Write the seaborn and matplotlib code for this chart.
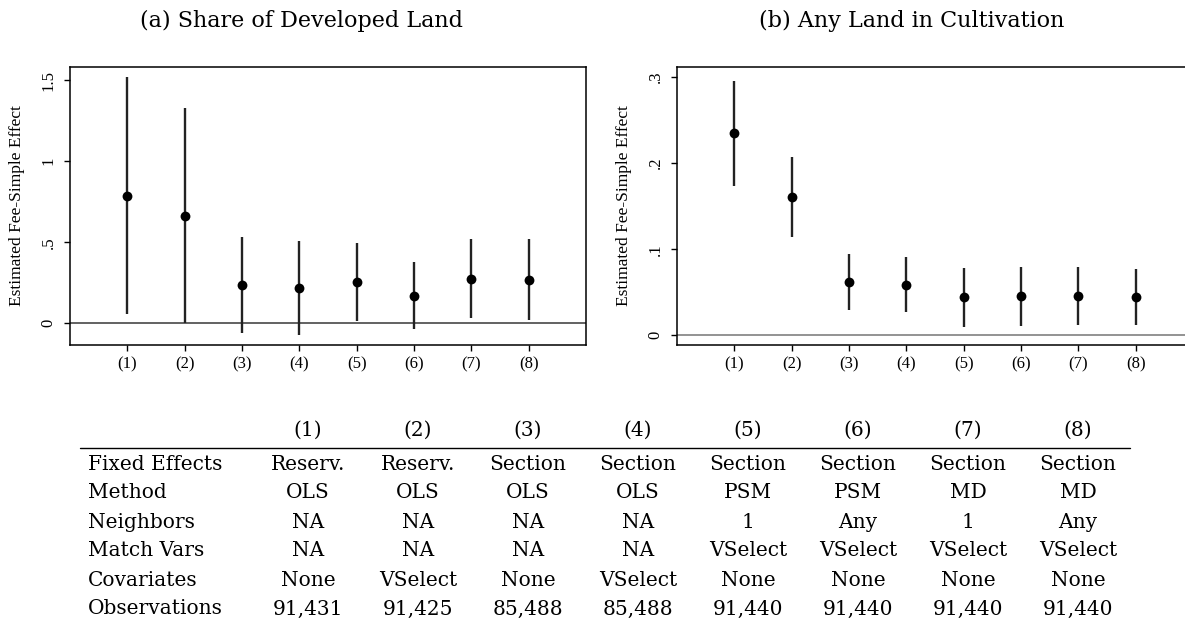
import matplotlib

matplotlib.use("Agg")
import matplotlib.pyplot as plt  # noqa: E402
from matplotlib.lines import Line2D  # noqa: E402
import numpy as np
import pandas as pd
import seaborn as sns

# specification labels (1)..(8)
SPECS = ["(1)", "(2)", "(3)", "(4)", "(5)", "(6)", "(7)", "(8)"]

# (a) share of developed land
DEV_EST = [0.788, 0.665, 0.237, 0.216, 0.257, 0.171, 0.274, 0.267]
DEV_LO = [0.058, 0.003, -0.058, -0.074, 0.014, -0.037, 0.031, 0.019]
DEV_HI = [1.519, 1.327, 0.531, 0.508, 0.498, 0.381, 0.519, 0.519]

# (b) any land in cultivation
CULT_EST = [0.2349, 0.1605, 0.0620, 0.0589, 0.0442, 0.0453, 0.0457, 0.0446]
CULT_LO = [0.174, 0.114, 0.0298, 0.0271, 0.0101, 0.0112, 0.0124, 0.0120]
CULT_HI = [0.2957, 0.2074, 0.0946, 0.0911, 0.0783, 0.0798, 0.0791, 0.0771]

# table under the panels
ROW_LABELS = ["Fixed Effects", "Method", "Neighbors", "Match Vars", "Covariates", "Observations"]
FIXED_EFFECTS = ["Reserv.", "Reserv.", "Section", "Section", "Section", "Section", "Section", "Section"]
METHOD = ["OLS", "OLS", "OLS", "OLS", "PSM", "PSM", "MD", "MD"]
NEIGHBORS = ["NA", "NA", "NA", "NA", "1", "Any", "1", "Any"]
MATCH_VARS = ["NA", "NA", "NA", "NA", "VSelect", "VSelect", "VSelect", "VSelect"]
COVARIATES = ["None", "VSelect", "None", "VSelect", "None", "None", "None", "None"]
OBSERVATIONS = ["91,431", "91,425", "85,488", "85,488", "91,440", "91,440", "91,440", "91,440"]

sns.set_theme(style="white")
plt.rcParams["font.family"] = ["Liberation Serif", "DejaVu Serif"]
plt.rcParams.update({
    "text.color": "black",
    "axes.labelcolor": "black",
    "xtick.color": "black",
    "ytick.color": "black",
})

W, H = 1185, 629
fig = plt.figure(figsize=(W / 100, H / 100), dpi=100)


def panel(ax, est, lo, hi, ylim, yticks, yticklabels, zero_color):
    df = pd.DataFrame({"pos": np.arange(1, len(SPECS) + 1), "est": est, "lo": lo, "hi": hi})
    ax.axhline(0, color=zero_color, lw=1.3, zorder=1)
    ax.vlines(df["pos"], df["lo"], df["hi"], color="#222222", lw=1.7, zorder=2)
    sns.scatterplot(data=df, x="pos", y="est", ax=ax, color="black", s=50,
                    edgecolor="black", linewidth=0, zorder=3, legend=False)
    ax.set_xlim(0, 9)
    ax.set_ylim(*ylim)
    ax.set_xticks(df["pos"])
    ax.set_xticklabels(SPECS, fontsize=12)
    ax.set_yticks(yticks)
    ax.set_yticklabels(yticklabels, rotation=90, va="center", fontsize=12)
    ax.tick_params(axis="both", direction="out", length=4.5, width=1, color="black",
                   left=True, bottom=True)
    ax.tick_params(axis="x", pad=4)
    ax.tick_params(axis="y", pad=5)
    ax.set_xlabel("")
    ax.set_ylabel("Estimated Fee-Simple Effect", fontsize=12.5, va="center")
    ax.yaxis.set_label_coords(-0.102, 0.5)
    for sp in ax.spines.values():
        sp.set_color("black")
        sp.set_linewidth(1.1)


axA = fig.add_axes([70 / W, 1 - 345 / H, 516 / W, 278 / H])
panel(axA, DEV_EST, DEV_LO, DEV_HI, (-0.134, 1.582), [0, 0.5, 1, 1.5],
      ["0", ".5", "1", "1.5"], "#555555")

axB = fig.add_axes([677 / W, 1 - 345 / H, 516 / W, 278 / H])
panel(axB, CULT_EST, CULT_LO, CULT_HI, (-0.0112, 0.3116), [0, 0.1, 0.2, 0.3],
      ["0", ".1", ".2", ".3"], "#8a8a8a")

title_font = ["DejaVu Serif"]
fig.text(302 / W, 1 - 27 / H, "(a) Share of Developed Land", ha="center", va="baseline",
         fontsize=16, family=title_font)
fig.text(912 / W, 1 - 27 / H, "(b) Any Land in Cultivation", ha="center", va="baseline",
         fontsize=16, family=title_font)

# table
col_x = [308 + 110 * i for i in range(len(SPECS))]
rows = [FIXED_EFFECTS, METHOD, NEIGHBORS, MATCH_VARS, COVARIATES, OBSERVATIONS]
tsize = 14.5
for x, lab in zip(col_x, SPECS):
    fig.text(x / W, 1 - 430 / H, lab, ha="center", va="center", fontsize=tsize, family=title_font)
fig.add_artist(Line2D([80 / W, 1130 / W], [1 - 448 / H, 1 - 448 / H], color="black", lw=1.0))
for j, (label, vals) in enumerate(zip(ROW_LABELS, rows)):
    y = 1 - (464 + 29 * j) / H
    fig.text(88 / W, y, label, ha="left", va="center", fontsize=tsize, family=title_font)
    for x, v in zip(col_x, vals):
        fig.text(x / W, y, v, ha="center", va="center", fontsize=tsize, family=title_font)

fig.savefig("out.png", dpi=100)
plt.close(fig)
